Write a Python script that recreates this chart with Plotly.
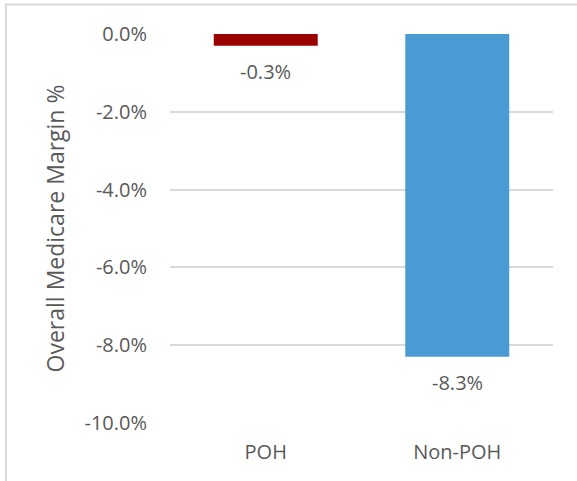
import plotly.graph_objects as go

# Overall Medicare margin by hospital group
categories = ["POH", "Non-POH"]
margins = [-0.3, -8.3]
bar_colors = ["#9B0000", "#4A9BD4"]
tick_values = [0, -2, -4, -6, -8, -10]
tick_labels = ["0.0%", "-2.0%", "-4.0%", "-6.0%", "-8.0%", "-10.0%"]

text_color = "#595959"
grid_color = "#D9D9D9"
font_family = "Open Sans, sans-serif"

fig = go.Figure(
    go.Bar(
        x=categories,
        y=margins,
        marker=dict(color=bar_colors, line=dict(width=0)),
        hoverinfo="skip",
    )
)

# value labels under each bar
for cat, val in zip(categories, margins):
    fig.add_annotation(
        x=cat, y=val, text=f"{val:.1f}%", showarrow=False,
        yanchor="middle", yshift=-26,
        font=dict(family=font_family, size=20, color=text_color),
    )

# light frame around the chart
fig.add_shape(
    type="rect", xref="paper", yref="paper",
    x0=(6 - 170) / 383, x1=1.3,
    y0=-0.3, y1=1 + (34 - 4.5) / 389,
    line=dict(color=grid_color, width=2), fillcolor="rgba(0,0,0,0)",
    layer="below",
)

fig.update_layout(
    width=577, height=481,
    margin=dict(l=170, r=24, t=34, b=58),
    paper_bgcolor="white", plot_bgcolor="white",
    bargap=0.457,
    showlegend=False,
    font=dict(family=font_family, size=20, color=text_color),
    xaxis=dict(
        showgrid=False, showline=False, zeroline=False,
        ticks="", ticklabelstandoff=15,
        tickfont=dict(size=20, color=text_color),
    ),
    yaxis=dict(
        range=[-10, 0],
        tickvals=tick_values, ticktext=tick_labels,
        showgrid=True, gridcolor=grid_color, gridwidth=1.5,
        zeroline=False, showline=False,
        ticks="", ticklabelstandoff=22,
        tickfont=dict(size=20, color=text_color),
        title=dict(text="Overall Medicare Margin %", standoff=13,
                   font=dict(size=23, color=text_color)),
    ),
)

fig.write_html("out.html")
